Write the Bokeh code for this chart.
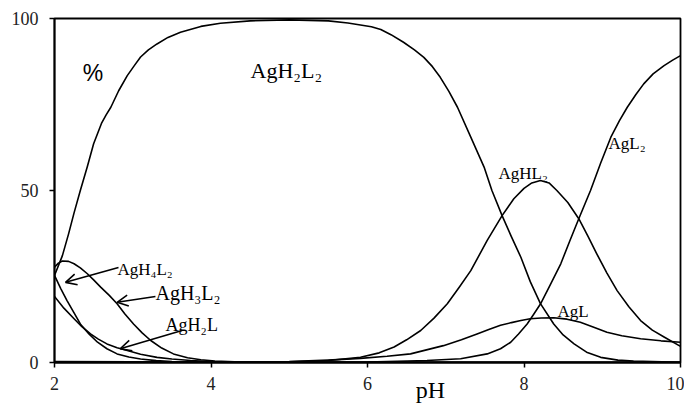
from bokeh.plotting import figure
from bokeh.models import Range1d, Label, Arrow, OpenHead, FixedTicker
from bokeh.embed import file_html
from bokeh.resources import INLINE

# ---- data (pH, % of total Ag) ----
ph_AgH2L2 = [2.00, 2.10, 2.18, 2.25, 2.33, 2.42, 2.50, 2.60, 2.66, 2.72, 2.82, 2.93, 3.02, 3.10,
             3.20, 3.31, 3.45, 3.61, 3.87, 4.12, 4.50, 5.00, 5.50, 5.75, 5.91, 6.05, 6.17, 6.30,
             6.46, 6.60, 6.72, 6.83, 6.93, 7.04, 7.15, 7.32, 7.49, 7.59, 7.72, 7.84, 7.96, 8.08,
             8.21, 8.38, 8.50, 8.64, 8.80, 8.98, 9.20, 9.40, 10.00]
pc_AgH2L2 = [25.3, 31.0, 37.4, 43.5, 50.0, 57.0, 63.6, 69.5, 72.0, 74.2, 79.0, 83.4, 86.3, 88.8,
             90.9, 92.6, 94.5, 96.0, 97.7, 98.6, 99.3, 99.6, 99.3, 98.7, 98.1, 97.6, 96.8, 95.3,
             93.1, 90.9, 88.7, 86.0, 82.9, 78.8, 74.2, 65.5, 56.8, 50.0, 42.7, 36.5, 30.6, 23.5,
             17.1, 11.2, 8.0, 5.4, 3.0, 1.5, 0.7, 0.4, 0.05]

ph_AgHL2 = [2.0, 4.0, 5.0, 5.5, 5.91, 6.15, 6.34, 6.50, 6.68, 6.85, 7.02, 7.17, 7.32, 7.53, 7.72,
            7.87, 8.00, 8.10, 8.21, 8.32, 8.42, 8.56, 8.70, 8.82, 8.93, 9.06, 9.19, 9.34, 9.49,
            9.64, 9.79, 10.0]
pc_AgHL2 = [0.0, 0.0, 0.2, 0.6, 1.5, 2.8, 4.5, 6.6, 9.3, 12.9, 17.1, 21.8, 26.7, 35.5, 42.7,
            47.6, 50.6, 52.2, 52.9, 52.2, 50.0, 46.5, 41.8, 36.6, 31.6, 26.0, 20.9, 16.2, 12.2,
            9.4, 7.4, 4.7]

ph_AgL2 = [2.0, 6.0, 6.76, 7.19, 7.53, 7.70, 7.83, 7.93, 8.04, 8.12, 8.21, 8.34, 8.47, 8.59,
           8.70, 8.85, 8.98, 9.11, 9.22, 9.32, 9.43, 9.53, 9.65, 9.79, 9.90, 10.0]
pc_AgL2 = [0.0, 0.1, 0.6, 1.1, 2.5, 4.0, 5.9, 8.3, 11.2, 13.9, 17.0, 22.8, 28.7, 35.6,
           41.8, 50.0, 58.0, 65.5, 70.3, 74.2, 77.9, 81.0, 83.9, 86.3, 87.9, 89.2]

ph_AgL = [2.0, 4.0, 5.0, 5.50, 5.91, 6.25, 6.55, 6.97, 7.20, 7.40, 7.55, 7.70, 7.84, 7.96,
          8.08, 8.22, 8.38, 8.55, 8.72, 8.90, 9.06, 9.25, 9.49, 9.75, 10.0]
pc_AgL = [0.3, 0.1, 0.3, 0.7, 1.2, 1.8, 2.5, 4.9, 6.6, 8.3, 9.6, 10.8, 11.6, 12.2,
          12.7, 12.95, 13.0, 12.6, 11.7, 10.2, 8.8, 7.8, 6.9, 6.3, 5.9]

ph_AgH3L2 = [2.00, 2.05, 2.10, 2.18, 2.25, 2.33, 2.42, 2.50, 2.59, 2.70, 2.80, 2.90, 3.01, 3.12,
             3.23, 3.37, 3.52, 3.70, 3.87, 4.05, 4.30, 5.00, 10.0]
pc_AgH3L2 = [27.7, 28.9, 29.5, 29.4, 28.7, 27.5, 25.8, 24.0, 21.9, 19.5, 17.1, 14.1, 11.2, 8.6,
             6.4, 4.2, 2.5, 1.4, 0.8, 0.45, 0.2, 0.0, 0.0]

ph_AgH4L2 = [2.00, 2.08, 2.16, 2.25, 2.33, 2.44, 2.55, 2.67, 2.80, 2.95, 3.10, 3.30, 3.50,
             4.00, 10.0]
pc_AgH4L2 = [25.3, 21.5, 18.0, 14.4, 11.2, 8.3, 5.9, 4.0, 2.5, 1.6, 1.0, 0.55, 0.3,
             0.05, 0.0]

ph_AgH2L = [2.00, 2.12, 2.25, 2.35, 2.46, 2.56, 2.67, 2.80, 2.93, 3.10, 3.31, 3.50, 3.74, 4.00,
            4.30, 5.00, 10.0]
pc_AgH2L = [19.2, 15.8, 12.7, 10.4, 8.3, 6.8, 5.4, 4.3, 3.5, 2.4, 1.5, 1.0, 0.6, 0.3,
            0.15, 0.03, 0.0]

x_ticks = [2, 4, 6, 8, 10]
y_ticks = [0, 50, 100]

SERIF = "Liberation Serif"

p = figure(width=684, height=409, output_backend="svg", toolbar_location=None,
           x_range=Range1d(2, 10), y_range=Range1d(0, 100),
           min_border_left=54, min_border_right=4, min_border_top=18, min_border_bottom=47)
p.background_fill_color = "white"
p.border_fill_color = "white"
p.outline_line_color = "black"
p.outline_line_width = 1.8
p.grid.visible = False

for ax in (p.xaxis[0], p.yaxis[0]):
    ax.axis_line_width = 1.8
    ax.axis_line_color = "black"
    ax.major_tick_line_color = "black"
    ax.major_tick_line_width = 1.5
    ax.major_tick_out = 5
    ax.major_tick_in = 0
    ax.minor_tick_line_color = None
    ax.major_label_text_font = SERIF
    ax.major_label_text_font_size = "18px"
    ax.major_label_text_color = "#222222"
p.xaxis[0].ticker = FixedTicker(ticks=x_ticks)
p.yaxis[0].ticker = FixedTicker(ticks=y_ticks)
p.xaxis[0].major_label_standoff = 9
p.yaxis[0].major_label_standoff = 11

# axis title: sits right of the plot centre in the reference, so it is padded with
# non-breaking spaces on the left
xa = p.xaxis[0]
xa.axis_label = "\u00a0" * 21 + "pH"
xa.axis_label_text_font = SERIF
xa.axis_label_text_font_size = "24px"
xa.axis_label_text_font_style = "normal"
xa.axis_label_text_color = "black"
xa.axis_label_standoff = -16

series = [(ph_AgH2L2, pc_AgH2L2), (ph_AgHL2, pc_AgHL2), (ph_AgL2, pc_AgL2), (ph_AgL, pc_AgL),
          (ph_AgH3L2, pc_AgH3L2), (ph_AgH4L2, pc_AgH4L2), (ph_AgH2L, pc_AgH2L)]
for xs, ys in series:
    p.line(xs, ys, line_color="black", line_width=1.6, line_join="round")

def lab(x, y, t, size, font=SERIF, align="left"):
    p.add_layout(Label(x=x, y=y, text=t, text_font=font, text_font_size=size,
                       text_color="black", text_align=align, text_baseline="alphabetic"))

lab(2.36, 84.3, "%", "23px", font="Liberation Sans")
lab(4.505, 84.9, "AgH₂L₂", "22px")
lab(7.674, 54.9, "AgHL₂", "17px")
lab(9.08, 63.7, "AgL₂", "17px")
lab(8.428, 14.8, "AgL", "17px")
lab(2.805, 27.0, "AgH₄L₂", "17px")
lab(3.29, 20.1, "AgH₃L₂", "20px")
lab(3.42, 10.8, "AgH₂L", "18px")

for xs, ys, xe, ye in [(2.818, 27.6, 2.141, 23.3), (3.29, 19.2, 2.80, 17.5), (3.63, 9.3, 2.84, 4.0)]:
    p.add_layout(Arrow(x_start=xs, y_start=ys, x_end=xe, y_end=ye, line_width=1.6,
                       line_color="black",
                       end=OpenHead(size=11, line_width=1.6, line_color="black")))

open("out.html", "w").write(file_html(p, INLINE))
